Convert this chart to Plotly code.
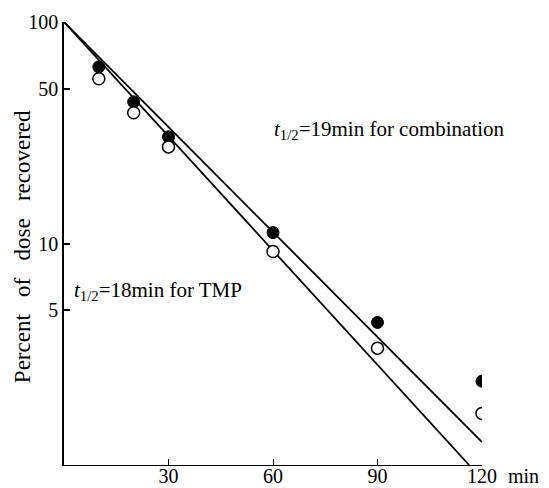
import plotly.graph_objects as go

# Data
time_min = [10, 20, 30, 60, 90, 120]
combination = [62.7, 43.6, 30.3, 11.2, 4.4, 2.39]
tmp = [55.4, 38.9, 27.3, 9.2, 3.37, 1.71]

comb_line_x = [0, 120]
comb_line_y = [100, 1.27]
tmp_line_x = [0, 116.3]
tmp_line_y = [100, 1.0]

x_ticks = [30, 60, 90, 120]
y_ticks = [5, 10, 50, 100]

FONT = "Liberation Serif"
SP = "\u00a0\u00a0\u00a0"

fig = go.Figure()
fig.add_trace(go.Scatter(x=comb_line_x, y=comb_line_y, mode="lines",
                         line=dict(color="black", width=1.8), showlegend=False))
fig.add_trace(go.Scatter(x=tmp_line_x, y=tmp_line_y, mode="lines",
                         line=dict(color="black", width=1.8), showlegend=False))
fig.add_trace(go.Scatter(x=time_min, y=combination, mode="markers",
                         marker=dict(size=12, color="black", line=dict(color="black", width=1)),
                         showlegend=False, name="combination"))
fig.add_trace(go.Scatter(x=time_min, y=tmp, mode="markers",
                         marker=dict(size=12, color="white", line=dict(color="black", width=1.5)),
                         showlegend=False, name="TMP"))

fig.update_layout(
    width=541, height=480,
    margin=dict(l=56, r=67, t=14, b=23, autoexpand=False),
    plot_bgcolor="white", paper_bgcolor="white",
    font=dict(family=FONT, size=20, color="black"),
    xaxis=dict(range=[0, 120], tickvals=x_ticks, ticktext=[str(v) for v in x_ticks],
               ticks="inside", ticklen=6, tickwidth=1.2, tickcolor="black", showline=True,
               linecolor="black", linewidth=1, showgrid=False, zeroline=False,
               automargin=False, ticklabelstandoff=-7, tickfont=dict(family=FONT, size=20)),
    yaxis=dict(type="log", range=[0, 2], tickvals=y_ticks, ticktext=[str(v) for v in y_ticks],
               ticks="inside", ticklen=6, tickwidth=1.5, tickcolor="black", showline=True,
               linecolor="black", linewidth=1.5, showgrid=False, zeroline=False,
               automargin=False, tickfont=dict(family=FONT, size=20)),
    annotations=[
        dict(text="<i>t</i><sub>1/2</sub>=19min for combination", x=59.7, y=1.514,
             xref="x", yref="y", xanchor="left", yanchor="middle", showarrow=False,
             font=dict(family=FONT, size=21)),
        dict(text="<i>t</i><sub>1/2</sub>=18min for TMP", x=2.3, y=0.784,
             xref="x", yref="y", xanchor="left", yanchor="middle", showarrow=False,
             font=dict(family=FONT, size=21)),
        dict(text="min", x=1.0, xref="paper", xshift=24, y=0, yref="paper", yshift=-11,
             xanchor="left", yanchor="middle", showarrow=False, font=dict(family=FONT, size=20)),
        dict(text="Percent" + SP + "of" + SP + "dose" + SP + "recovered", x=-0.1005, y=0.494,
             xref="paper", yref="paper",
             textangle=-90, xanchor="center", yanchor="middle", showarrow=False,
             font=dict(family=FONT, size=23)),
    ],
)

fig.write_html("out.html")
